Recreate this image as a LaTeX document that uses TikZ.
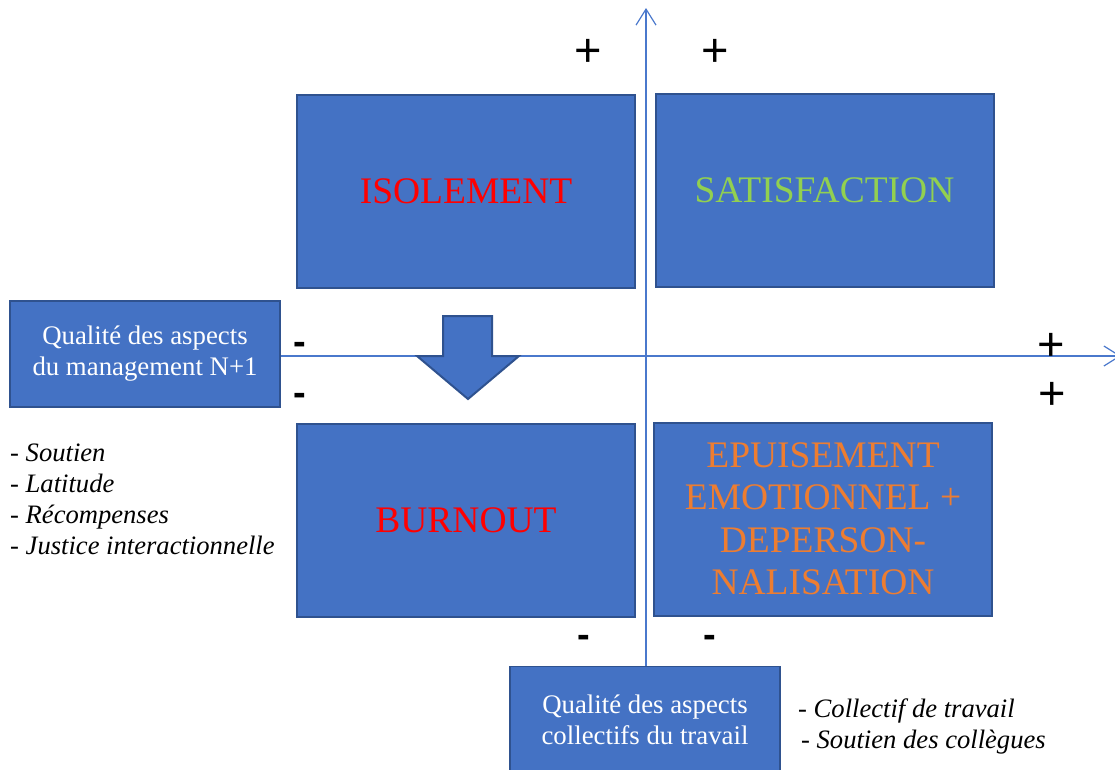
\documentclass[tikz,border=0pt]{standalone}
\usepackage{fontspec}
\setmainfont{Liberation Serif}
\newfontfamily\signfont{Liberation Sans}
\usepackage{tikz}
\usetikzlibrary{positioning}
\usetikzlibrary{arrows,arrows.meta,shapes}
\usetikzlibrary{calc}
\definecolor{boxblue}{HTML}{4472C4}
\definecolor{boxborder}{HTML}{2F528F}
\definecolor{axisblue}{HTML}{4A78CC}
\definecolor{satgreen}{HTML}{92D050}
\definecolor{epuorange}{HTML}{ED7D31}
\tikzstyle{quadrant}=[rectangle,draw=boxborder,line width=2pt,fill=boxblue,minimum width=338pt,minimum height=193pt,inner sep=0pt,align=center,font=\fontsize{37.5}{42.5}\selectfont]
\tikzstyle{factor}=[rectangle,draw=boxborder,line width=1.5pt,fill=boxblue,minimum width=270pt,minimum height=106pt,inner sep=0pt,align=center,text=white,font=\fontsize{26.8}{31}\selectfont]
\tikzstyle{axis} = [draw,axisblue,line width=1.2pt,-{Straight Barb[length=16pt,width=20pt,line width=1.2pt]}]
\tikzstyle{sign} = [inner sep=0pt,font=\signfont\fontsize{47}{47}\selectfont]
\tikzstyle{minus} = [inner sep=0pt,font=\signfont\bfseries\fontsize{38}{38}\selectfont]
\tikzstyle{itemlist} = [inner sep=0pt,align=left,font=\itshape\fontsize{26.6}{31}\selectfont]

\begin{document}
\begin{tikzpicture}[x=1pt,y=-1pt]
\useasboundingbox (0,0) rectangle (1115,769);

%factors
    \node[factor] (mgmt) at (145,354) {Qualit\'e des aspects\\du management N+1};
    \node[factor] (coll) at (645,719.5) {Qualit\'e des aspects\\collectifs du travail};

    \node[itemlist,anchor=west] (mgmtlist) at (10,499) {- Soutien\\- Latitude\\- R\'ecompenses\\- Justice interactionnelle};
    \node[itemlist,anchor=west] (colllist) at (798,726) {- Collectif de travail\\\hspace*{3pt}- Soutien des coll\`egues};

    % axes
    \coordinate (ytop) at (646,8);
    \coordinate (xend) at (1121,356);
    \path[axis] (coll.north -| ytop) -- (ytop);
    \path[axis] (mgmt.east |- xend) -- (xend);

%quadrants
  \foreach \pos/\name/\col/\label in {{(466,191.5)/iso/red/ISOLEMENT}, {(824.5,190.5)/sat/satgreen/SATISFACTION}, {(466,520)/burn/red/BURNOUT}, {(823,519)/epu/epuorange/{EPUISEMENT\\EMOTIONNEL +\\DEPERSON-\\NALISATION}}}
        \node[quadrant,text=\col] (\name) at \pos {\label};

    % signs
  \foreach \pos/\name in {{(588,53)/pTL}, {(715,53)/pTR}, {(1051,347)/pRU}, {(1052,396)/pRD}}
        \node[sign] (\name) at \pos {+};
  \foreach \pos/\name in {{(300,348)/mLU}, {(300,399)/mLD}, {(584,641)/mBL}, {(710,641)/mBR}}
        \node[minus] (\name) at \pos {-};

    % down arrow
    \draw[draw=boxborder,line width=2pt,fill=boxblue,line join=miter]
      (443,316) -- (492,316) -- (492,356) -- (519,356) -- (468,399) -- (417,356) -- (443,356) -- cycle;

   \end{tikzpicture}
\end{document}
